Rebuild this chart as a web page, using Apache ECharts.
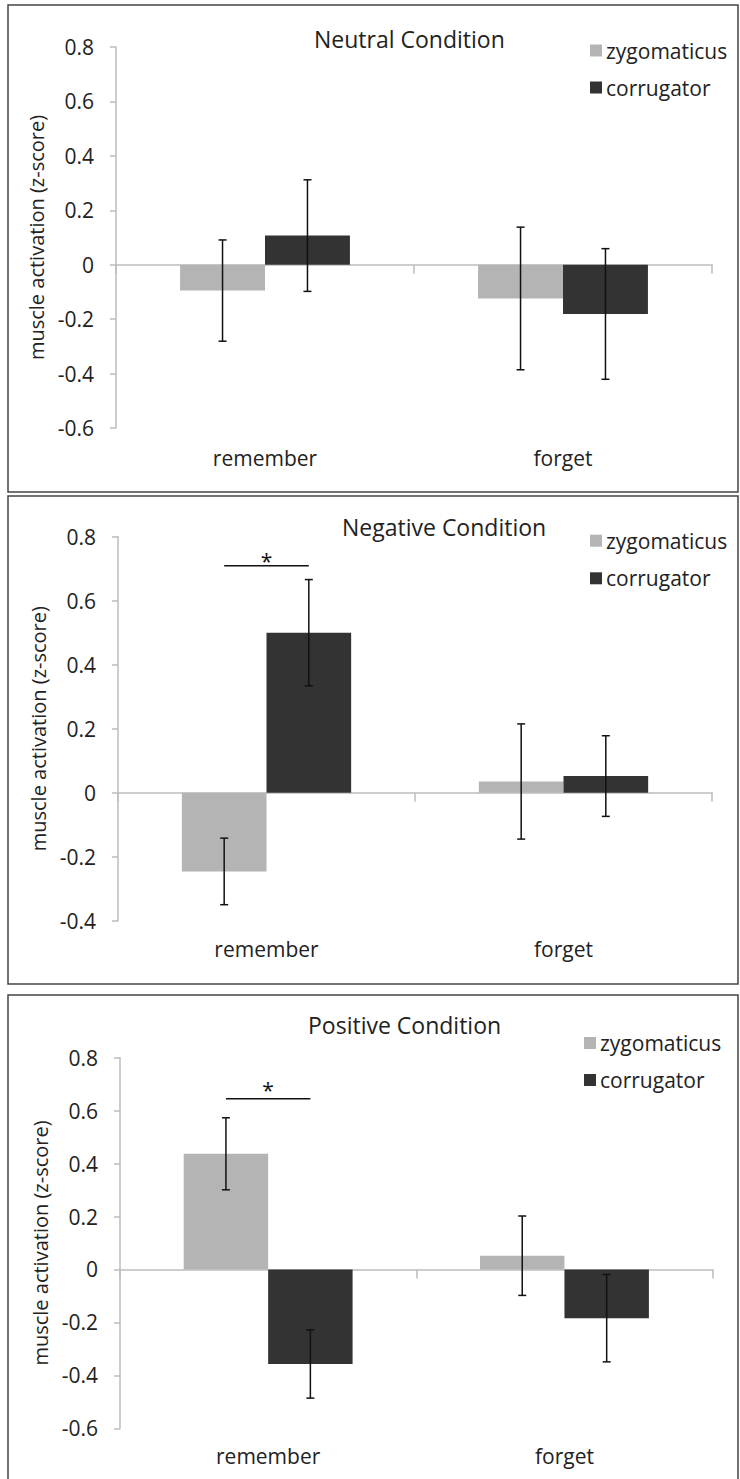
<!DOCTYPE html>
<html>
<head>
<meta charset="utf-8">
<script src="https://cdn.jsdelivr.net/npm/echarts@6/dist/echarts.min.js"></script>
<style>
html,body{margin:0;padding:0;background:#fff;}
#chart{width:740px;height:1479px;}
</style>
</head>
<body>
<div id="chart"></div>
<script>
// ---------- data ----------
const categories = ['remember', 'forget'];
const seriesNames = ['zygomaticus', 'corrugator'];
const panelTitles = ['Neutral Condition', 'Negative Condition', 'Positive Condition'];
const yAxisName = 'muscle activation (z-score)';

const neutralRange = [-0.6, 0.8];
const negativeRange = [-0.4, 0.8];
const positiveRange = [-0.6, 0.8];
const yStep = 0.2;

const neutralZygo = [-0.095, -0.124];
const neutralZygoErr = [0.186, 0.262];
const neutralCorr = [0.107, -0.181];
const neutralCorrErr = [0.205, 0.240];

const negativeZygo = [-0.246, 0.035];
const negativeZygoErr = [0.104, 0.180];
const negativeCorr = [0.500, 0.052];
const negativeCorrErr = [0.166, 0.126];

const positiveZygo = [0.437, 0.052];
const positiveZygoErr = [0.136, 0.150];
const positiveCorr = [-0.357, -0.184];
const positiveCorrErr = [0.129, 0.165];

// significance markers: [category, line level, star level]
const neutralSig = [];
const negativeSig = [['remember', 0.709, 0.737]];
const positiveSig = [['remember', 0.645, 0.694]];

// ---------- layout / style ----------
const FONT = 'Open Sans';
const TXT = '#222222';
const AXIS = '#bdbdbd';
const COLORS = ['#b4b4b4', '#333333'];
const GAP = 0.43;

const layouts = [
  {grid:{left:116, top:47, width:596, height:381}, title:{left:314, top:27}, legend:{left:590, top:40, itemGap:16}, nameGap:64, labelMargin:19, border:[8,5,730,487]},
  {grid:{left:118, top:536.7, width:594, height:384}, title:{left:342, top:514.7}, legend:{left:590, top:530.2, itemGap:16.6}, nameGap:66, labelMargin:18, border:[8,496,730,488]},
  {grid:{left:120, top:1057.7, width:592.6, height:370.6}, title:{left:308, top:1013}, legend:{left:584, top:1032.5, itemGap:16}, nameGap:70, labelMargin:17, border:[8,995,730,500]}
];

const panels = [
  {range:neutralRange, zygo:neutralZygo, zygoErr:neutralZygoErr, corr:neutralCorr, corrErr:neutralCorrErr, sig:neutralSig},
  {range:negativeRange, zygo:negativeZygo, zygoErr:negativeZygoErr, corr:negativeCorr, corrErr:negativeCorrErr, sig:negativeSig},
  {range:positiveRange, zygo:positiveZygo, zygoErr:positiveZygoErr, corr:positiveCorr, corrErr:positiveCorrErr, sig:positiveSig}
];

function errRender(sign) {
  return function (params, api) {
    const ci = api.value(0), m = api.value(1), e = api.value(2);
    const band = api.size([1, 0])[0];
    const barW = band * (1 - GAP) / 2;
    const cx = api.coord([ci, m])[0] + sign * barW / 2;
    const yT = api.coord([ci, m + e])[1];
    const yB = api.coord([ci, m - e])[1];
    const cap = 4;
    const st = {stroke:'#111', lineWidth:1.5};
    return {type:'group', children:[
      {type:'line', shape:{x1:cx, y1:yT, x2:cx, y2:yB}, style:st},
      {type:'line', shape:{x1:cx-cap, y1:yT, x2:cx+cap, y2:yT}, style:st},
      {type:'line', shape:{x1:cx-cap, y1:yB, x2:cx+cap, y2:yB}, style:st}
    ]};
  };
}

function sigRender(params, api) {
  const ci = api.value(0);
  const lineY = api.value(1), starY = api.value(2);
  const band = api.size([1, 0])[0];
  const barW = band * (1 - GAP) / 2;
  const p = api.coord([ci, lineY]);
  const ps = api.coord([ci, starY]);
  return {type:'group', children:[
    {type:'line', shape:{x1:p[0]-barW/2, y1:p[1], x2:p[0]+barW/2, y2:p[1]}, style:{stroke:'#111', lineWidth:1.5}},
    {type:'text', style:{text:'*', x:ps[0], y:ps[1]+4, align:'center', verticalAlign:'middle', font:'21px "' + FONT + '"', fill:'#111'}}
  ]};
}

const option = {
  animation:false,
  backgroundColor:'#fff',
  textStyle:{fontFamily:FONT, color:TXT},
  title:[], legend:[], grid:[], xAxis:[], yAxis:[], series:[], graphic:[]
};

panels.forEach((p, i) => {
  const L = layouts[i];
  option.title.push({text:panelTitles[i], left:L.title.left, top:L.title.top, padding:0,
    textStyle:{fontFamily:FONT, fontSize:23, fontWeight:'normal', color:TXT, lineHeight:24}});
  option.legend.push({data:seriesNames, orient:'vertical', left:L.legend.left, top:L.legend.top, padding:0,
    itemGap:L.legend.itemGap, itemWidth:12, itemHeight:12, icon:'rect', selectedMode:false,
    textStyle:{fontFamily:FONT, fontSize:21, color:TXT, lineHeight:21, padding:[0,0,0,-1]}});
  option.grid.push(Object.assign({containLabel:false}, L.grid));
  // labels axis (bottom)
  option.xAxis.push({type:'category', gridIndex:i, data:categories, position:'bottom',
    axisLine:{show:false, onZero:false}, axisTick:{show:false},
    axisLabel:{fontFamily:FONT, fontSize:21, color:TXT, margin:L.labelMargin}});
  // zero line axis with ticks
  option.xAxis.push({type:'category', gridIndex:i, data:categories, position:'top',
    axisLine:{show:true, onZero:true, lineStyle:{color:AXIS, width:1.5}},
    axisTick:{show:true, inside:true, length:9, lineStyle:{color:AXIS, width:1.5}},
    axisLabel:{show:false}, splitLine:{show:false}});
  option.yAxis.push({type:'value', gridIndex:i, min:p.range[0], max:p.range[1], interval:yStep,
    name:yAxisName, nameLocation:'middle', nameGap:L.nameGap,
    nameTextStyle:{fontFamily:FONT, fontSize:20, color:TXT},
    axisLine:{show:true, lineStyle:{color:AXIS, width:1.5}},
    axisTick:{show:true, length:6, lineStyle:{color:AXIS, width:1.5}},
    axisLabel:{fontFamily:FONT, fontSize:21, color:TXT, margin:22},
    splitLine:{show:false}});
  const xi = 2*i + 1;
  option.series.push({type:'bar', name:seriesNames[0], xAxisIndex:xi, yAxisIndex:i, data:p.zygo,
    barGap:'0%', barCategoryGap:(GAP*100)+'%', itemStyle:{color:COLORS[0]}});
  option.series.push({type:'bar', name:seriesNames[1], xAxisIndex:xi, yAxisIndex:i, data:p.corr,
    barGap:'0%', barCategoryGap:(GAP*100)+'%', itemStyle:{color:COLORS[1]}});
  option.series.push({type:'custom', name:'zygErr'+i, xAxisIndex:xi, yAxisIndex:i, z:5,
    renderItem:errRender(-1), data:p.zygo.map((m, k) => [k, m, p.zygoErr[k]])});
  option.series.push({type:'custom', name:'corErr'+i, xAxisIndex:xi, yAxisIndex:i, z:5,
    renderItem:errRender(1), data:p.corr.map((m, k) => [k, m, p.corrErr[k]])});
  if (p.sig.length) {
    option.series.push({type:'custom', name:'sig'+i, xAxisIndex:xi, yAxisIndex:i, z:6,
      renderItem:sigRender, data:p.sig.map(s => [categories.indexOf(s[0]), s[1], s[2]])});
  }
  option.graphic.push({type:'rect', shape:{x:L.border[0], y:L.border[1], width:L.border[2], height:L.border[3]},
    style:{fill:'none', stroke:'#444', lineWidth:1.5}, silent:true, z:100});
});

const chart = echarts.init(document.getElementById('chart'), null, {renderer:'svg', width:740, height:1479});
chart.setOption(option);
</script>
</body>
</html>
